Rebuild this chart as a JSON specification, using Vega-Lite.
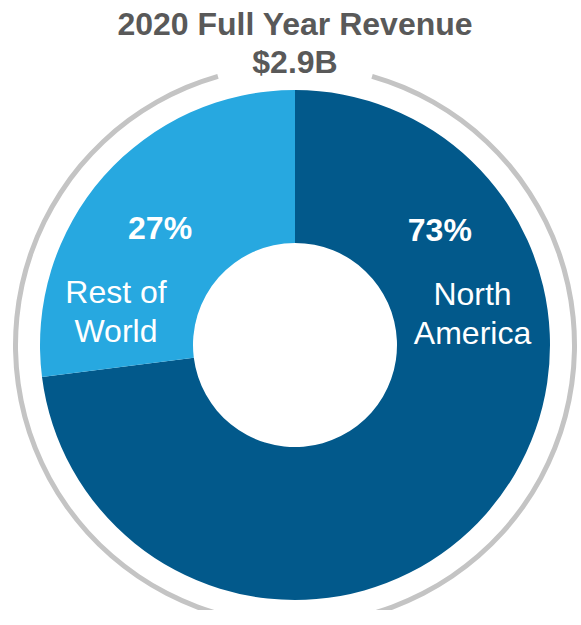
{
  "$schema": "https://vega.github.io/schema/vega-lite/v6.json",
  "width": 590,
  "height": 530,
  "autosize": {"type": "none"},
  "padding": {"top": 80, "left": 0, "right": 0, "bottom": 0},
  "background": "white",
  "title": {
    "text": ["2020 Full Year Revenue", "$2.9B"],
    "font": "Liberation Sans",
    "fontSize": 32,
    "fontWeight": "bold",
    "color": "#595959",
    "lineHeight": 38,
    "offset": 0,
    "dy": 6,
    "anchor": "middle"
  },
  "config": {"view": {"stroke": null}},
  "data": {
    "values": [
      {"region": "North America", "share": 73, "pct": "73%", "name": "North\nAmerica"},
      {"region": "Rest of World", "share": 27, "pct": "27%", "name": "Rest of\nWorld"}
    ]
  },
  "layer": [
    {
      "data": {"values": [{"frame": "ring"}]},
      "mark": {"type": "arc", "theta": 0.2793, "theta2": 6.0039, "radius": 282, "radius2": 277, "color": "#c4c4c4"},
      "encoding": {}
    },
    {
      "mark": {"type": "arc", "radius": 255, "radius2": 102},
      "encoding": {
        "theta": {"field": "share", "type": "quantitative", "stack": true},
        "color": {
          "field": "region",
          "type": "nominal",
          "scale": {"domain": ["North America", "Rest of World"], "range": ["#02598b", "#27a8e0"]},
          "legend": null
        },
        "order": {"field": "share", "sort": "descending"}
      }
    },
    {
      "transform": [{"filter": "datum.region === 'North America'"}],
      "mark": {"type": "text", "radius": 184, "thetaOffset": -1.3875, "font": "Liberation Sans", "fontWeight": "bold", "fontSize": 32, "color": "white", "align": "center", "baseline": "middle"},
      "encoding": {
        "theta": {"field": "share", "type": "quantitative", "stack": true},
        "text": {"field": "pct"}
      }
    },
    {
      "transform": [{"filter": "datum.region === 'North America'"}],
      "mark": {"type": "text", "radius": 184.3, "thetaOffset": -0.995, "font": "Liberation Sans", "fontSize": 32, "color": "white", "align": "center", "baseline": "middle", "lineBreak": "\n", "lineHeight": 39},
      "encoding": {
        "theta": {"field": "share", "type": "quantitative", "stack": true},
        "text": {"field": "name"}
      }
    },
    {
      "transform": [{"filter": "datum.region === 'Rest of World'"}],
      "mark": {"type": "text", "radius": 178, "thetaOffset": 4.5745, "font": "Liberation Sans", "fontWeight": "bold", "fontSize": 32, "color": "white", "align": "center", "baseline": "middle"},
      "encoding": {
        "theta": {"field": "share", "type": "quantitative", "stack": true},
        "text": {"field": "pct"}
      }
    },
    {
      "transform": [{"filter": "datum.region === 'Rest of World'"}],
      "mark": {"type": "text", "radius": 186.3, "thetaOffset": 4.1443, "font": "Liberation Sans", "fontSize": 32, "color": "white", "align": "center", "baseline": "middle", "lineBreak": "\n", "lineHeight": 39},
      "encoding": {
        "theta": {"field": "share", "type": "quantitative", "stack": true},
        "text": {"field": "name"}
      }
    }
  ]
}
